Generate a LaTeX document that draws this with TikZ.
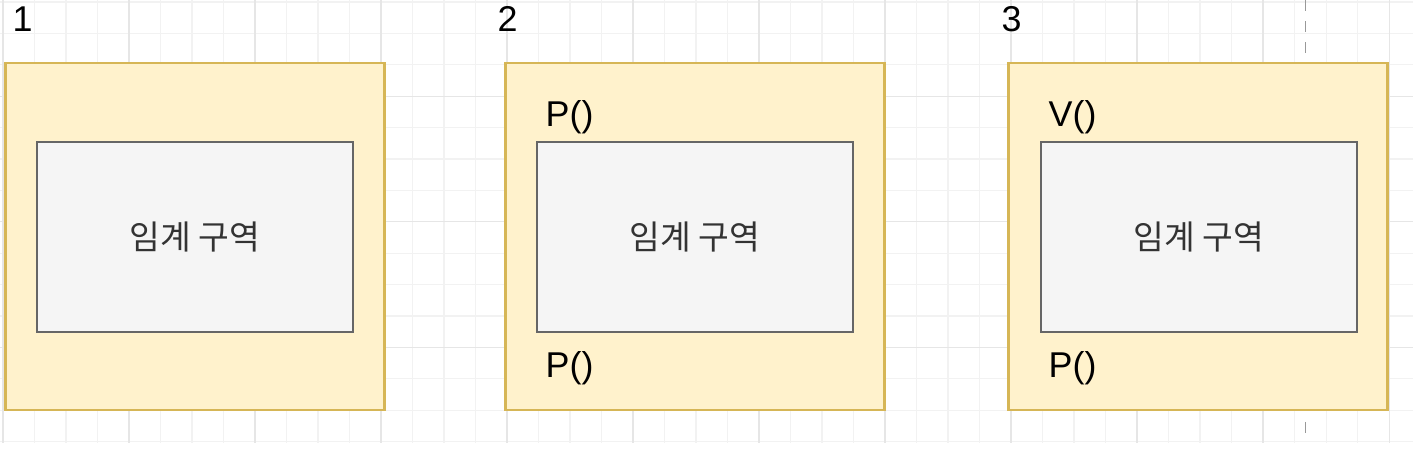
\documentclass[tikz,border=0pt]{standalone}
\usepackage{fontspec}
\setmainfont{Liberation Sans}
\newfontfamily\kofont{Noto Sans CJK KR}
\definecolor{zonefill}{HTML}{FFF2CC}
\definecolor{zoneline}{HTML}{D6B656}
\definecolor{crfill}{HTML}{F5F5F5}
\definecolor{crline}{HTML}{666666}
\definecolor{crtext}{HTML}{333333}
\definecolor{gridminor}{HTML}{F2F2F2}
\definecolor{gridmajor}{HTML}{E6E6E6}
\begin{document}
\begin{tikzpicture}[x=0.01cm,y=-0.01cm,
   zone/.style={draw=zoneline,fill=zonefill,line width=0.75pt,minimum width=3.79cm,minimum height=3.47cm,inner sep=0},
   crit/.style={draw=crline,fill=crfill,line width=0.75pt,minimum width=3.16cm,minimum height=1.9cm,inner sep=0,
     font=\kofont\fontsize{9.5}{11}\selectfont,text=crtext},
   lbl/.style={anchor=base west,inner sep=0,font=\fontsize{10.2}{12}\selectfont}]
   \useasboundingbox (0,0) rectangle (1413,462);
   % grid
   \foreach \i in {0,...,44} \draw[gridminor,line width=0.3pt] (3+31.5*\i,0) -- (3+31.5*\i,443);
   \foreach \j in {0,...,14} \draw[gridminor,line width=0.3pt] (0,2+31.4*\j) -- (1413,2+31.4*\j);
   \foreach \i in {0,4,...,44} \draw[gridmajor,line width=0.3pt] (3+31.5*\i,0) -- (3+31.5*\i,443);
   \foreach \j in {3,7,11} \draw[gridmajor,line width=0.3pt] (0,2+31.4*\j) -- (1413,2+31.4*\j);
   \draw[gray!80,dashed,line width=0.3pt] (1305,0) -- (1305,443);
   % three cases
   \node[zone] (zone1) at (195,236.5) {};
   \node[zone] (zone2) at (695,236.5) {};
   \node[zone] (zone3) at (1198,236.5) {};
   \node[crit] (crit1) at (195,237) {임계 구역};
   \node[crit] (crit2) at (695,237) {임계 구역};
   \node[crit] (crit3) at (1199,237) {임계 구역};
   \node[lbl] (num1) at (12,32) {1};
   \node[lbl] (num2) at (497,32) {2};
   \node[lbl] (num3) at (1001,32) {3};
   \node[lbl] (top2) at (545,127) {P()};
   \node[lbl] (bot2) at (545,378) {P()};
   \node[lbl] (top3) at (1048,127) {V()};
   \node[lbl] (bot3) at (1048,378) {P()};
  \end{tikzpicture}
\end{document}
